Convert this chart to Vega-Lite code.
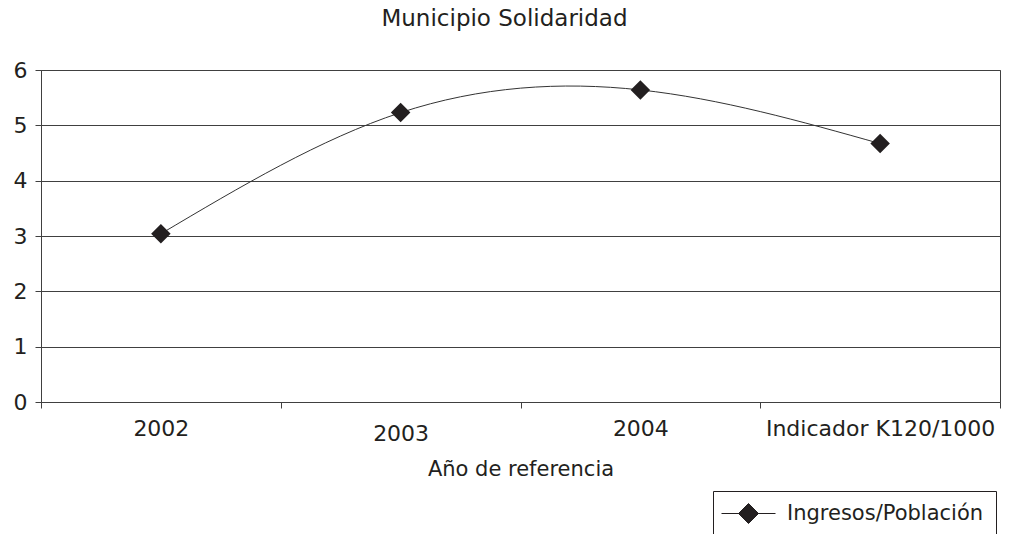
{
  "$schema": "https://vega.github.io/schema/vega-lite/v6.json",
  "width": 959,
  "height": 332,
  "autosize": "none",
  "padding": {"left": 41, "top": 70, "right": 14, "bottom": 132},
  "background": "white",
  "config": {
    "font": "DejaVu Sans",
    "view": {"stroke": "#404040", "strokeWidth": 1}
  },
  "title": {
    "text": "Municipio Solidaridad",
    "fontSize": 23,
    "fontWeight": "normal",
    "color": "#231f20",
    "anchor": "middle",
    "dx": -16,
    "offset": 28
  },
  "data": {
    "values": [
      {"anio": "2002", "valor": 3.04, "serie": "Ingresos/Población"},
      {"anio": "2003", "valor": 5.23, "serie": "Ingresos/Población"},
      {"anio": "2004", "valor": 5.64, "serie": "Ingresos/Población"},
      {"anio": "Indicador K120/1000", "valor": 4.67, "serie": "Ingresos/Población"}
    ]
  },
  "encoding": {
    "x": {
      "field": "anio",
      "type": "nominal",
      "sort": null,
      "scale": {"type": "band", "paddingInner": 0, "paddingOuter": 0},
      "axis": {
        "title": "Año de referencia",
        "tickBand": "extent",
        "labelAngle": 0,
        "labelFontSize": 22,
        "labelColor": "#231f20",
        "labelPadding": {"condition": {"test": "datum.value === '2003'", "value": 15}, "value": 10},
        "labelLimit": 0,
        "labelFlush": false,
        "labelOverlap": false,
        "titleFontSize": 21,
        "titleFontWeight": "normal",
        "titleColor": "#231f20",
        "titlePadding": 14,
        "domainColor": "#404040",
        "tickColor": "#404040",
        "tickSize": 6,
        "grid": false
      }
    },
    "y": {
      "field": "valor",
      "type": "quantitative",
      "scale": {"domain": [0, 6], "nice": false},
      "axis": {
        "title": null,
        "values": [0, 1, 2, 3, 4, 5, 6],
        "grid": true,
        "gridColor": "#404040",
        "gridOpacity": 1,
        "domainColor": "#404040",
        "tickColor": "#404040",
        "tickSize": 6,
        "labelFontSize": 22,
        "labelColor": "#231f20",
        "labelPadding": 8
      }
    }
  },
  "layer": [
    {
      "mark": {"type": "line", "interpolate": "natural", "color": "#333333", "strokeWidth": 1}
    },
    {
      "mark": {"type": "point", "shape": "diamond", "filled": true, "size": 380, "opacity": 1},
      "encoding": {
        "color": {
          "field": "serie",
          "type": "nominal",
          "scale": {"range": ["#231f20"]},
          "legend": {
            "orient": "none",
            "legendX": 672,
            "legendY": 421,
            "title": null,
            "strokeColor": "#231f20",
            "fillColor": "white",
            "padding": 12,
            "cornerRadius": 0,
            "labelFontSize": 21,
            "labelLimit": 0,
            "labelColor": "#231f20",
            "labelOffset": 28,
            "symbolOffset": 13,
            "symbolType": "M-2.7,0H2.7M0,-1L1,0L0,1L-1,0Z",
            "symbolSize": 400,
            "symbolStrokeWidth": 1,
            "symbolStrokeColor": "#231f20",
            "symbolFillColor": "#231f20",
            "symbolOpacity": 1
          }
        }
      }
    }
  ]
}
